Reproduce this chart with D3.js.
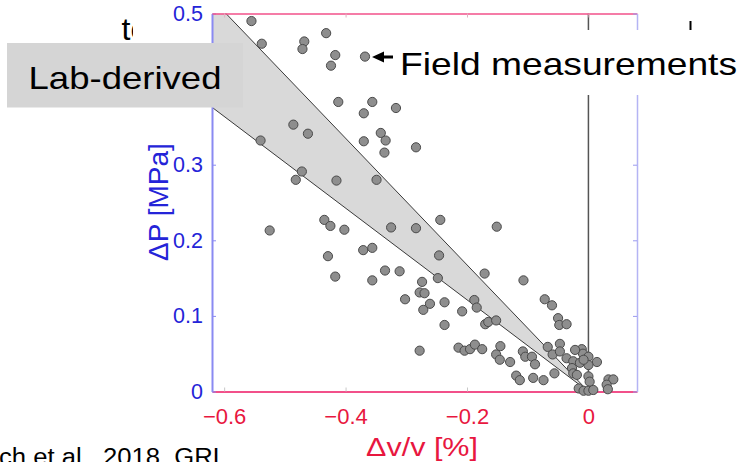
<!DOCTYPE html>
<html>
<head>
<meta charset="utf-8">
<script src="https://cdn.jsdelivr.net/npm/d3@7"></script>
<style>
  html, body { margin: 0; padding: 0; background: #fff; }
  svg { display: block; font-family: "Liberation Sans", Arial, Helvetica, sans-serif; }
</style>
</head>
<body>
<svg id="chart" width="742" height="462"></svg>
<script>
// ---------------- data ----------------
const xTicks = [-0.6, -0.4, -0.2, 0];
const yTicks = [0, 0.1, 0.2, 0.3, 0.4, 0.5];

// Lab-derived band (upper and lower bounds of ΔP vs Δv/v)
const bandDv = [-0.62, -0.597, 0, -0.62];
const bandDp = [0.5, 0.5, 0, 0.376];

// Field measurements
const fieldDv = [
  -0.555, -0.538, -0.468, -0.471, -0.432, -0.417, -0.424, -0.368, -0.412, -0.356,
  -0.317, -0.370, -0.486, -0.462, -0.540, -0.342, -0.334, -0.370, -0.336, -0.284,
  -0.472, -0.482, -0.415, -0.349, -0.244, -0.284, -0.151, -0.525, -0.435, -0.425,
  -0.402, -0.325, -0.371, -0.356, -0.429, -0.246, -0.417, -0.356, -0.335, -0.311,
  -0.171, -0.107, -0.274, -0.248, -0.278, -0.270, -0.302, -0.261, -0.237, -0.272,
  -0.208, -0.188, -0.184, -0.237, -0.170, -0.165, -0.152, -0.072, -0.060, -0.050,
  -0.048, -0.036, -0.278, -0.214, -0.204, -0.195, -0.187, -0.175, -0.145, -0.152,
  -0.146, -0.129, -0.108, -0.104, -0.093, -0.088, -0.119, -0.113, -0.091, -0.074,
  -0.056, -0.067, -0.059, -0.047, -0.047, -0.036, -0.025, -0.011, -0.009, -0.014,
   0.000,  0.014,  0.000, -0.027, -0.025, -0.019,  0.000,  0.002, -0.016, -0.008,
   0.000,  0.008,  0.033,  0.041,  0.030,  0.032, -0.022, -0.008
];
const fieldDp = [
  0.490, 0.460, 0.463, 0.453, 0.474, 0.445, 0.431, 0.443, 0.383, 0.383,
  0.375, 0.368, 0.353, 0.341, 0.332, 0.342, 0.332, 0.331, 0.316, 0.323,
  0.291, 0.280, 0.279, 0.280, 0.227, 0.216, 0.218, 0.213, 0.227, 0.219,
  0.214, 0.217, 0.187, 0.190, 0.179, 0.180, 0.152, 0.147, 0.160, 0.159,
  0.156, 0.147, 0.145, 0.150, 0.131, 0.130, 0.122, 0.116, 0.118, 0.108,
  0.106, 0.121, 0.111, 0.088, 0.089, 0.092, 0.094, 0.122, 0.114, 0.097,
  0.088, 0.089, 0.054, 0.058, 0.054, 0.056, 0.062, 0.056, 0.060, 0.049,
  0.042, 0.039, 0.053, 0.046, 0.046, 0.036, 0.021, 0.015, 0.018, 0.015,
  0.024, 0.059, 0.049, 0.063, 0.053, 0.044, 0.040, 0.056, 0.050, 0.038,
  0.046, 0.039, 0.035, 0.031, 0.024, 0.022, 0.020, 0.013, 0.004, 0.001,
  0.001, 0.002, 0.016, 0.016, 0.009, 0.003, 0.055, 0.042
];

// ---------------- drawing ----------------
const svg = d3.select("#chart");
const x = d3.scaleLinear().domain([-0.62, 0.08]).range([212, 637]);
const y = d3.scaleLinear().domain([0, 0.5]).range([391.5, 13.5]);

const blueText = "#2424d8", blueLine = "#8a8af2";
const redText = "#e8173f", pinkLine = "#f2508a";

// Partially hidden title (covered by the figure)
svg.append("clipPath").attr("id", "titleClip")
  .append("rect").attr("x", 0).attr("y", 0).attr("width", 133).attr("height", 60);
svg.append("text").attr("clip-path", "url(#titleClip)")
  .attr("x", 121.5).attr("y", 40).attr("font-size", 32).attr("fill", "#000")
  .text("to");
svg.append("line").attr("x1", 690.5).attr("x2", 690.5).attr("y1", 21).attr("y2", 30)
  .attr("stroke", "#000").attr("stroke-width", 2);

// Lab-derived band
const bandPts = bandDv.map((d, i) => [x(d), y(bandDp[i])]);
svg.append("path")
  .attr("d", d3.line()(bandPts) + "Z")
  .attr("fill", "#d9d9d9").attr("stroke", "none");
svg.append("path")
  .attr("d", d3.line()([bandPts[1], bandPts[2], bandPts[3]]))
  .attr("fill", "none").attr("stroke", "#3a3a3a").attr("stroke-width", 1);

// Zero line
svg.append("line")
  .attr("x1", x(0)).attr("x2", x(0)).attr("y1", y(0.5)).attr("y2", y(0))
  .attr("stroke", "#555").attr("stroke-width", 1.5);

// Axes
const fmt = d => d === 0 ? "0" : d3.format(".1f")(d);
const gx = svg.append("g").attr("transform", `translate(0,${y(0)})`)
  .call(d3.axisBottom(x).tickValues(xTicks).tickFormat(fmt).tickSizeInner(-4).tickSizeOuter(0).tickPadding(0));
gx.select(".domain").attr("stroke", pinkLine).attr("stroke-width", 2);
gx.selectAll(".tick line").attr("stroke", "#c8c8c8");
gx.selectAll(".tick text").attr("fill", redText).attr("font-size", 22)
  .attr("font-family", "Liberation Sans, Arial, sans-serif")
  .attr("y", 32).attr("dy", null);

// the 0.4 label is hidden under the "Lab-derived" box in the original
const fmtY = d => d === 0.4 ? "" : fmt(d);
const gy = svg.append("g").attr("transform", `translate(${x(-0.62)},0)`)
  .call(d3.axisLeft(y).tickValues(yTicks).tickFormat(fmtY).tickSizeInner(-4).tickSizeOuter(0).tickPadding(9));
gy.select(".domain").attr("stroke", blueLine).attr("stroke-width", 2);
gy.selectAll(".tick line").attr("stroke", blueLine);
gy.selectAll(".tick text").attr("fill", blueText).attr("font-size", 21.5)
  .attr("font-family", "Liberation Sans, Arial, sans-serif");

// top and right frame
const gt = svg.append("g").attr("transform", `translate(0,${y(0.5)})`)
  .call(d3.axisTop(x).tickValues(xTicks).tickFormat("").tickSizeInner(-4).tickSizeOuter(0));
gt.select(".domain").attr("stroke", pinkLine).attr("stroke-width", 1.5);
gt.selectAll(".tick line").attr("stroke", "#e0b0c0");
const gr = svg.append("g").attr("transform", `translate(${x(0.08)},0)`)
  .call(d3.axisRight(y).tickValues(yTicks).tickFormat("").tickSizeInner(-4).tickSizeOuter(0));
gr.select(".domain").attr("stroke", "#b4b4f4").attr("stroke-width", 1.5);
gr.selectAll(".tick line").attr("stroke", "#9a9af0");

// Field measurement points
svg.append("g").selectAll("circle")
  .data(fieldDv.map((d, i) => [d, fieldDp[i]]))
  .join("circle")
  .attr("cx", d => x(d[0])).attr("cy", d => y(d[1])).attr("r", 4.6)
  .attr("fill", "#8e8e8e").attr("stroke", "#4a4a4a").attr("stroke-width", 1);

// Axis titles
svg.append("text")
  .attr("transform", "translate(168,202) rotate(-90)")
  .attr("text-anchor", "middle").attr("font-size", 28).attr("fill", blueText)
  .text("ΔP [MPa]");
svg.append("text")
  .attr("x", 422).attr("y", 456)
  .attr("text-anchor", "middle").attr("font-size", 25)
  .attr("textLength", 112).attr("lengthAdjust", "spacingAndGlyphs")
  .attr("fill", redText)
  .text("Δv/v [%]");

// Field measurements label
svg.append("rect").attr("x", 396).attr("y", 30).attr("width", 346).attr("height", 65).attr("fill", "#fff");
svg.append("path")
  .attr("d", "M372,57 L384,51.5 L384,55.5 L393,55.5 L393,58.5 L384,58.5 L384,62.5 Z")
  .attr("fill", "#000");
svg.append("text").attr("x", 400).attr("y", 75).attr("font-size", 32)
  .attr("textLength", 337).attr("lengthAdjust", "spacingAndGlyphs")
  .attr("fill", "#000").text("Field measurements");

// Lab-derived label
svg.append("rect").attr("x", 7).attr("y", 43).attr("width", 236).attr("height", 64.5).attr("fill", "#d5d5d5");
svg.append("text").attr("x", 28.5).attr("y", 88.5).attr("font-size", 32)
  .attr("textLength", 193).attr("lengthAdjust", "spacingAndGlyphs")
  .attr("fill", "#000").text("Lab-derived");

// Citation (cut off at the left and bottom edges, as in the original)
svg.append("text").attr("x", -1).attr("y", 465).attr("font-size", 23)
  .attr("textLength", 228).attr("lengthAdjust", "spacingAndGlyphs")
  .attr("fill", "#000").text("ch et al., 2018, GRL");
</script>
</body>
</html>
